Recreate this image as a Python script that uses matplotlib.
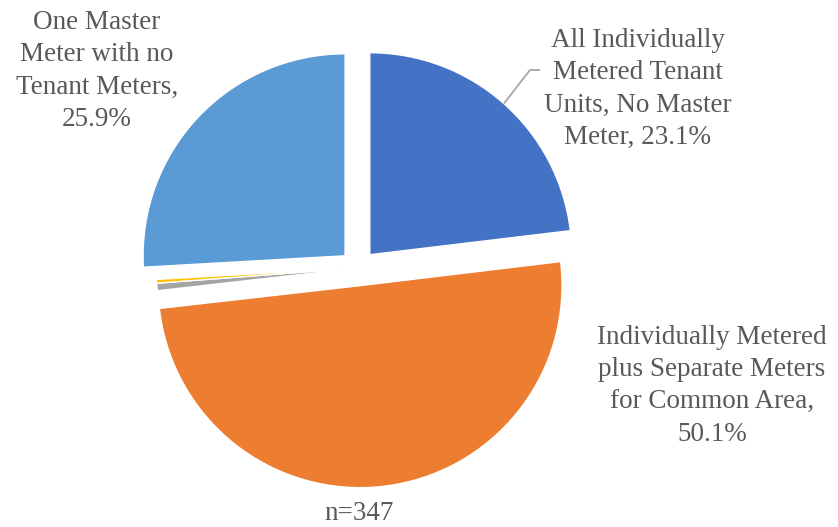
import numpy as np
import matplotlib
matplotlib.use("Agg")
import matplotlib.pyplot as plt

# Share of properties by metering arrangement (n=347)
categories = [
    "All Individually\nMetered Tenant\nUnits, No Master\nMeter,",
    "Individually Metered\nplus Separate Meters\nfor Common Area,",
    "Other",
    "Unknown",
    "One Master\nMeter with no\nTenant Meters,",
]
shares = [23.1, 50.1, 0.6, 0.3, 25.9]
colors = ["#4472C4", "#ED7D31", "#A5A5A5", "#FFC000", "#5B9BD5"]
sample_note = "n=347"

W, H = 838, 527
fig = plt.figure(figsize=(W / 100, H / 100), dpi=100)
ax = fig.add_axes([0, 0, 1, 1])

cx, cy, R = 358, H - 268, 202
# the three large slices are pulled out; the two tiny ones stay in place
offset = 0.088 * R
explode = [offset if s > 5 else 0 for s in shares]
wedges, _ = ax.pie(
    shares,
    colors=colors,
    startangle=90,
    counterclock=False,
    explode=explode,
    radius=R,
    center=(cx, cy),
    wedgeprops=dict(edgecolor="white", linewidth=1.0),
    frame=True,
)
ax.set_xlim(0, W)
ax.set_ylim(0, H)
ax.set_aspect("equal")
ax.axis("off")

txt = dict(family="Liberation Serif", fontsize=19.5, color="#595959",
           ha="center", va="center", multialignment="center", linespacing=1.39)

# label anchor and separator between name and percentage
label_pos = {0: (638, 89, " "), 1: (712, 386, "\n"), 4: (97, 71, "\n")}
for i, (x, y, sep) in label_pos.items():
    ax.text(x, H - y, f"{categories[i]}{sep}{shares[i]:.1f}%", **txt)

# Leader line from the outer middle of the first slice to its label
w = wedges[0]
mid = np.deg2rad((w.theta1 + w.theta2) / 2)
wx, wy = w.center
p0 = (wx + w.r * np.cos(mid), wy + w.r * np.sin(mid))
p1 = (530, H - 70)
p2 = (540, H - 70)
ax.plot([p0[0], p1[0], p2[0]], [p0[1], p1[1], p2[1]], color="#A6A6A6", lw=1.3,
        solid_capstyle="butt")

ax.text(359, H - 514, sample_note, **txt)

fig.savefig("out.png", dpi=100, facecolor="white")
